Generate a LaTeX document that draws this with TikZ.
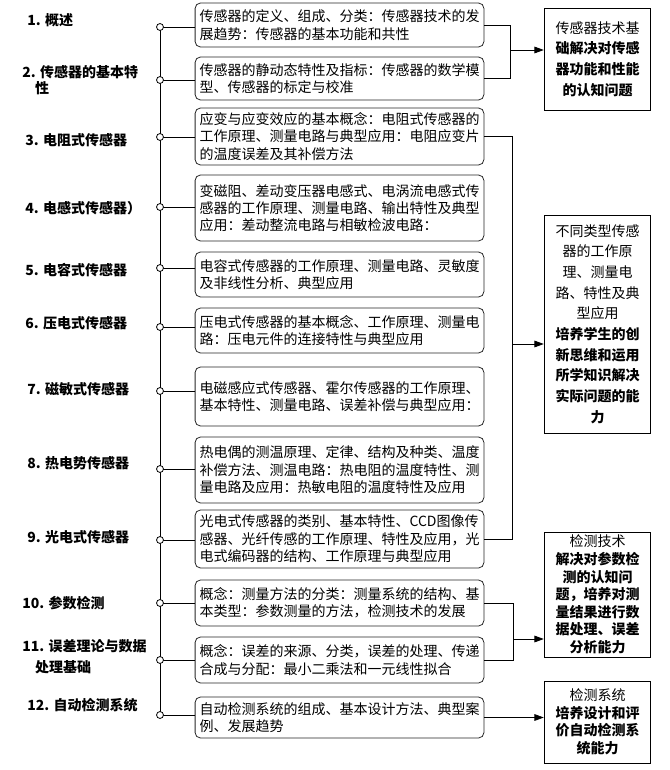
\documentclass[tikz,border=0pt]{standalone}
\usepackage{fontspec}
\setmainfont{Noto Sans CJK SC}
\usepackage{tikz}
\usetikzlibrary{arrows.meta}

\begin{document}
\begin{tikzpicture}[x=0.75pt, y=-0.75pt, line width=0.6pt,
  font=\fontsize{10.5pt}{13pt}\selectfont,
  b/.style={draw=black!85, rounded corners=4pt, align=left, text width=210pt,
            inner xsep=3.3pt, inner ysep=0pt, minimum height=#1},
  b/.default=33pt,
  g/.style={draw=black, align=center, text width=80pt, inner sep=0pt,
            minimum height=#1, font=\fontsize{10.5pt}{15.5pt}\selectfont},
  dot/.style={circle, draw, fill=white, inner sep=0pt, minimum size=5.2pt},
  arr/.style={-{Triangle[length=7pt, width=5pt]}},
  lab/.style={anchor=west, align=left, inner sep=0pt,
              font=\bfseries\fontsize{10.5pt}{11.5pt}\selectfont}]
\useasboundingbox (0,0) rectangle (670,770);
% chapter titles
\node[lab] (l1) at (27, 20) {1. 概述};
\node[lab] (l2) at (22, 80) {2. 传感器的基本特\\\hspace*{0.9em}性};
\node[lab] (l3) at (25, 140) {3. 电阻式传感器};
\node[lab] (l4) at (25, 208) {4. 电感式传感器）};
\node[lab] (l5) at (25, 270) {5. 电容式传感器};
\node[lab] (l6) at (25, 323) {6. 压电式传感器};
\node[lab] (l7) at (27, 389) {7. 磁敏式传感器};
\node[lab] (l8) at (27, 463) {8. 热电势传感器};
\node[lab] (l9) at (27, 537) {9. 光电式传感器};
\node[lab] (l10) at (22, 603) {10. 参数检测};
\node[lab, font=\bfseries\fontsize{10.5pt}{15.5pt}\selectfont] (l11) at (22, 657) {11. 误差理论与数据\\\hspace*{0.9em}处理基础};
\node[lab] (l12) at (27, 705) {12. 自动检测系统};
% contents
\node[b=33pt] (t1) at (339.5, 25) {传感器的定义、组成、分类：传感器技术的发\\展趋势：传感器的基本功能和共性};
\node[b=32.25pt] (t2) at (339.5, 78.5) {传感器的静动态特性及指标：传感器的数学模\\型、传感器的标定与校准};
\node[b=42.75pt] (t3) at (339.5, 136.5) {应变与应变效应的基本概念：电阻式传感器的\\工作原理、测量电路与典型应用：电阻应变片\\的温度误差及其补偿方法};
\node[b=49.5pt] (t4) at (339.5, 208) {变磁阻、差动变压器电感式、电涡流电感式传\\感器的工作原理、测量电路、输出特性及典型\\应用：差动整流电路与相敏检波电路：};
\node[b=33.75pt] (t5) at (339.5, 274.5) {电容式传感器的工作原理、测量电路、灵敏度\\及非线性分析、典型应用};
\node[b=33.75pt] (t6) at (339.5, 330.5) {压电式传感器的基本概念、工作原理、测量电\\路：压电元件的连接特性与典型应用};
\node[b=44.25pt] (t7) at (339.5, 396.5) {电磁感应式传感器、霍尔传感器的工作原理、\\基本特性、测量电路、误差补偿与典型应用：};
\node[b=49.5pt] (t8) at (339.5, 470) {热电偶的测温原理、定律、结构及种类、温度\\补偿方法、测温电路：热电阻的温度特性、测\\量电路及应用：热敏电阻的温度特性及应用};
\node[b=43.5pt] (t9) at (339.5, 539) {光电式传感器的类别、基本特性、CCD图像传\\感器、光纤传感的工作原理、特性及应用，光\\电式编码器的结构、工作原理与典型应用};
\node[b=34.5pt] (t10) at (339.5, 603) {概念：测量方法的分类：测量系统的结构、基\\本类型：参数测量的方法，检测技术的发展};
\node[b=34.5pt] (t11) at (339.5, 660) {概念：误差的来源、分类，误差的处理、传递\\合成与分配：最小二乘法和一元线性拟合};
\node[b=30.75pt] (t12) at (339.5, 717.5) {自动检测系统的组成、基本设计方法、典型案\\例、发展趋势};
% goals
\node[g=76.5pt] (rA) at (597.5, 59) {传感器技术基\\\textbf{础解决对传感}\\\textbf{器功能和性能}\\\textbf{的认知问题}};
\node[g=163.5pt] (rB) at (597.5, 324) {不同类型传感\\器的工作原\\理、测量电\\路、特性及典\\型应用\\\textbf{培养学生的创}\\\textbf{新思维和运用}\\\textbf{所学知识解决}\\\textbf{实际问题的能}\\\textbf{力}};
\node[g=93.75pt, font=\fontsize{10.5pt}{13.2pt}\selectfont] (rC) at (597.5, 594.5) {检测技术\\\textbf{解决对参数检}\\\textbf{测的认知问}\\\textbf{题，培养对测}\\\textbf{量结果进行数}\\\textbf{据处理、误差}\\\textbf{分析能力}};
\node[g=61.5pt, font=\fontsize{10.5pt}{13.2pt}\selectfont] (rD) at (597.5, 722) {检测系统\\\textbf{培养设计和评}\\\textbf{价自动检测系}\\\textbf{统能力}};
% spine with dots
\foreach \i/\y in {1/27, 2/80, 3/137, 4/207, 5/268, 6/327, 7/391, 8/469, 9/540, 10/603, 11/660, 12/715}
  \coordinate (p\i) at (160, \y);
\draw (p1) -- (p12);
\foreach \i in {1,...,12} {
  \draw (p\i) -- (p\i -| t\i.west);
  \node[dot] at (p\i) {};
}
% brackets to goals
\coordinate (j1) at (510, 50);
\coordinate (j2) at (512, 344);
\coordinate (j3) at (513, 639);
\draw (t1.east) -| (j1 |- t2.east) -- (t2.east);
\draw[arr] (j1) -- (j1 -| rA.west);
\draw (t3.east) -| (j2 |- t9.east) -- (t9.east);
\draw[arr] (j2) -- (j2 -| rB.west);
\draw (t10.east) -| (j3 |- t11.east) -- (t11.east);
\draw[arr] (j3) -- (j3 -| rC.west);
\draw[arr] (t12.east) -- (t12.east -| rD.west);
\end{tikzpicture}
\end{document}
